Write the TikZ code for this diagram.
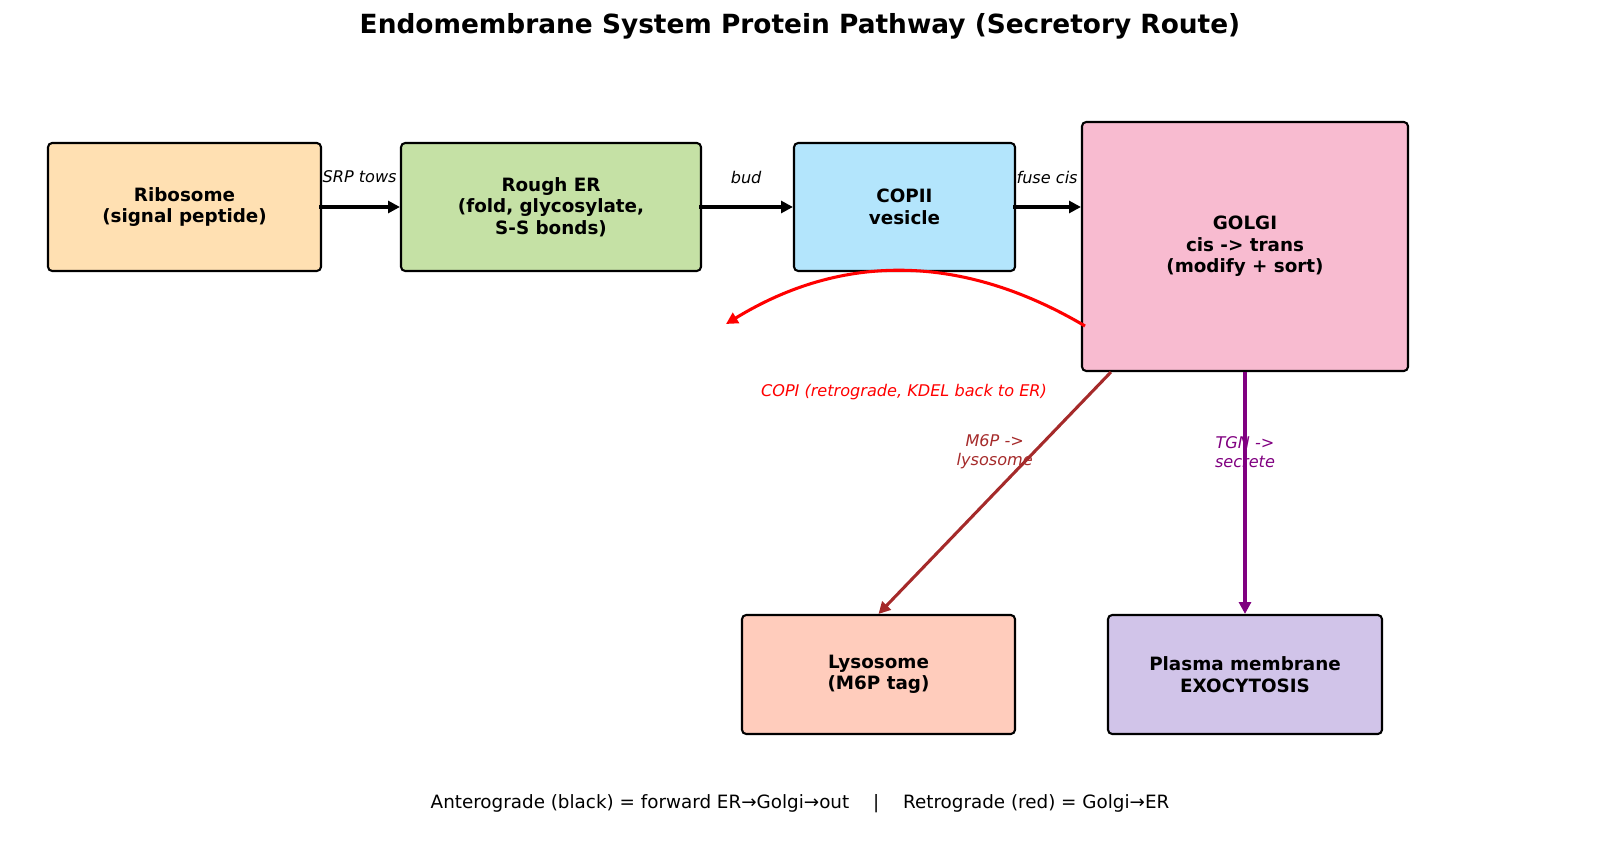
\documentclass[tikz,border=0pt]{standalone}
\usepackage{fontspec}
\setmainfont{DejaVu Sans}
\usetikzlibrary{arrows.meta,calc}
\definecolor{cRibo}{HTML}{FFE0B2}
\definecolor{cER}{HTML}{C5E1A5}
\definecolor{cCop}{HTML}{B3E5FC}
\definecolor{cGolgi}{HTML}{F8BBD0}
\definecolor{cLyso}{HTML}{FFCCBC}
\definecolor{cPM}{HTML}{D1C4E9}
\definecolor{cBrown}{HTML}{A52A2A}
\definecolor{cPurple}{HTML}{800080}
\begin{document}
\begin{tikzpicture}[x=0.72pt,y=-0.72pt,
  box/.style={draw=black, line width=1.5pt, rounded corners=3pt, align=center,
    font=\bfseries\fontsize{13.2}{15.4}\selectfont, inner sep=0pt},
  tip/.style={-{Triangle[length=8.5pt,width=8.5pt]}},
  flow/.style={line width=2.2pt, tip},
  elabel/.style={font=\itshape\fontsize{11.6}{13.8}\selectfont, align=center}]
\useasboundingbox (0,0) rectangle (1600,865);
\node[font=\bfseries\fontsize{19}{22}\selectfont] (title) at (800,26) {Endomembrane System Protein Pathway (Secretory Route)};
\node[box, fill=cRibo, minimum width=273*0.72pt, minimum height=128*0.72pt] (ribo) at (184.5,207) {Ribosome\\(signal peptide)};
\node[box, fill=cER, minimum width=300*0.72pt, minimum height=128*0.72pt] (er) at (551,207) {Rough ER\\(fold, glycosylate,\\S-S bonds)};
\node[box, fill=cCop, minimum width=221*0.72pt, minimum height=128*0.72pt] (cop) at (904.5,207) {COPII\\vesicle};
\node[box, fill=cGolgi, minimum width=326*0.72pt, minimum height=249*0.72pt] (golgi) at (1245,246.5) {GOLGI\\cis -> trans\\(modify + sort)};
\node[box, fill=cLyso, minimum width=273*0.72pt, minimum height=119*0.72pt] (lyso) at (878.5,674.5) {Lysosome\\(M6P tag)};
\node[box, fill=cPM, minimum width=274*0.72pt, minimum height=119*0.72pt] (pm) at (1245,674.5) {Plasma membrane\\EXOCYTOSIS};
\draw[flow] ([xshift=-2pt]ribo.east) -- (er.west) node[midway, elabel, yshift=21.6pt] {SRP tows};
\draw[flow] ([xshift=-2pt]er.east) -- (cop.west) node[midway, elabel, yshift=21.6pt] {bud};
\draw[flow] ([xshift=-2pt]cop.east) -- (cop.east -| golgi.west) node[midway, elabel, yshift=21.6pt] {fuse cis};
\coordinate (copiS) at (1085,326);
\coordinate (copiE) at (726,324);
\draw[red, line width=2.2pt, tip] (copiS) .. controls (962,253.3) and (842.3,252.7) .. (copiE);
\node[elabel, text=red] (copil) at (904,392) {COPI (retrograde, KDEL back to ER)};
\draw[cBrown, line width=2.2pt, tip] ([xshift=30*0.72pt]golgi.south west) -- (lyso.north)
  node[midway, elabel, text=cBrown, yshift=29.5pt] {M6P ->\\lysosome};
\draw[cPurple, line width=2.4pt, tip] (golgi.south) -- (pm.north)
  node[midway, elabel, text=cPurple, yshift=29.5pt] {TGN ->\\secrete};
\node[font=\fontsize{13.2}{15.8}\selectfont] (foot) at (800,804) {Anterograde (black) = forward ER→Golgi→out\hspace{1.3em}|\hspace{1.3em}Retrograde (red) = Golgi→ER};
\end{tikzpicture}
\end{document}
